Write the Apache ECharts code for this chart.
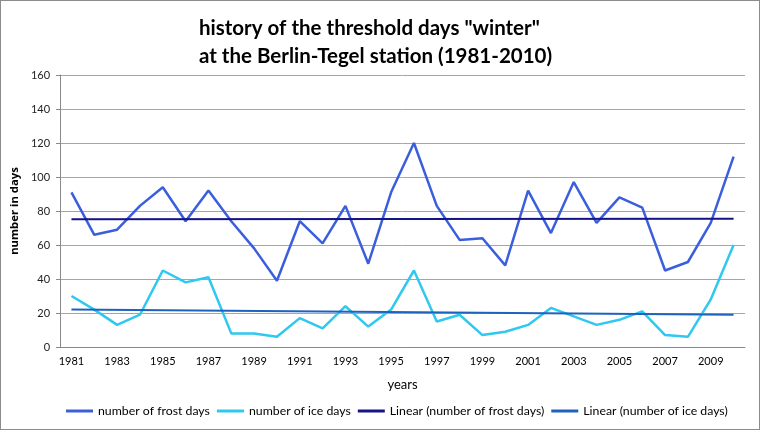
<!DOCTYPE html>
<html>
<head>
<meta charset="utf-8">
<script src="https://cdn.jsdelivr.net/npm/echarts@6/dist/echarts.min.js"></script>
<style>
  html, body { margin: 0; padding: 0; background: #fff; }
  #main { width: 758px; height: 428px; border: 1px solid #8c8c8c; }
</style>
</head>
<body>
<div id="main"></div>
<script>
// categories
const years = ["1981", "1982", "1983", "1984", "1985", "1986", "1987", "1988", "1989", "1990",
  "1991", "1992", "1993", "1994", "1995", "1996", "1997", "1998", "1999", "2000",
  "2001", "2002", "2003", "2004", "2005", "2006", "2007", "2008", "2009", "2010"];
const frostDays = [91, 66, 69, 83, 94, 74, 92, 74, 58, 39,
  74, 61, 83, 49, 91, 120, 83, 63, 64, 48,
  92, 67, 97, 73, 88, 82, 45, 50, 73, 112];
const iceDays = [30, 22, 13, 19, 45, 38, 41, 8, 8, 6,
  17, 11, 24, 12, 22, 45, 15, 19, 7, 9,
  13, 23, 18, 13, 16, 21, 7, 6, 28, 60];
// trend lines, start and end value (1981, 2010)
const frostTrend = [75.1, 75.4];
const iceTrend = [22, 19];
const yTicks = [0, 20, 40, 60, 80, 100, 120, 140, 160];

function endpoints(pair) {
  return years.map((y, i) => (i === 0 ? pair[0] : i === years.length - 1 ? pair[1] : null));
}

const chart = echarts.init(document.getElementById("main"));
const font = "Lato, 'Open Sans', sans-serif";

const option = {
  animation: false,
  backgroundColor: "#fff",
  title: {
    text: 'history of the threshold days "winter"\nat the Berlin-Tegel station (1981-2010)',
    left: 193,
    top: 8,
    textStyle: {
      fontFamily: font,
      fontWeight: "bold",
      fontSize: 20.5,
      lineHeight: 28,
      color: "#000"
    }
  },
  grid: { left: 59, right: 14, top: 74, bottom: 82 },
  legend: {
    top: 404,
    left: 65,
    padding: 0,
    icon: "rect",
    itemWidth: 27,
    itemHeight: 3,
    itemGap: 7,
    textStyle: { fontFamily: font, fontSize: 12.3, color: "#000" },
    data: ["number of frost days", "number of ice days",
      "Linear (number of frost days)", "Linear (number of ice days)"]
  },
  xAxis: {
    type: "category",
    data: years,
    boundaryGap: true,
    name: "years",
    nameLocation: "middle",
    nameGap: 31,
    nameTextStyle: { fontFamily: font, fontSize: 13, color: "#000" },
    axisLine: { lineStyle: { color: "#888", width: 1 } },
    axisTick: { interval: 0, length: 4, lineStyle: { color: "#888" } },
    axisLabel: { interval: 1, fontFamily: font, fontSize: 11, color: "#000", margin: 9 }
  },
  yAxis: {
    type: "value",
    min: yTicks[0],
    max: yTicks[yTicks.length - 1],
    interval: 20,
    name: "number in days",
    nameLocation: "middle",
    nameGap: 39,
    nameTextStyle: { fontFamily: "'Open Sans', sans-serif", fontSize: 11.3, fontWeight: "bold", color: "#000" },
    axisLine: { show: true, lineStyle: { color: "#888" } },
    axisTick: { show: true, length: 4, lineStyle: { color: "#888" } },
    axisLabel: { fontFamily: font, fontSize: 11, color: "#222", margin: 10 },
    splitLine: { lineStyle: { color: "#a6a6a6", width: 1 } }
  },
  series: [
    {
      name: "number of frost days",
      type: "line",
      data: frostDays,
      symbol: "none",
      itemStyle: { color: "#3b5fdc" },
      lineStyle: { color: "#3b5fdc", width: 2.5 },
      z: 3
    },
    {
      name: "number of ice days",
      type: "line",
      data: iceDays,
      symbol: "none",
      itemStyle: { color: "#2ec8f0" },
      lineStyle: { color: "#2ec8f0", width: 2.5 },
      z: 3
    },
    {
      name: "Linear (number of frost days)",
      type: "line",
      data: endpoints(frostTrend),
      connectNulls: true,
      symbol: "none",
      itemStyle: { color: "#141488" },
      lineStyle: { color: "#141488", width: 2 },
      z: 4
    },
    {
      name: "Linear (number of ice days)",
      type: "line",
      data: endpoints(iceTrend),
      connectNulls: true,
      symbol: "none",
      itemStyle: { color: "#1f62be" },
      lineStyle: { color: "#1f62be", width: 2 },
      z: 4
    }
  ]
};

chart.setOption(option);
</script>
</body>
</html>
